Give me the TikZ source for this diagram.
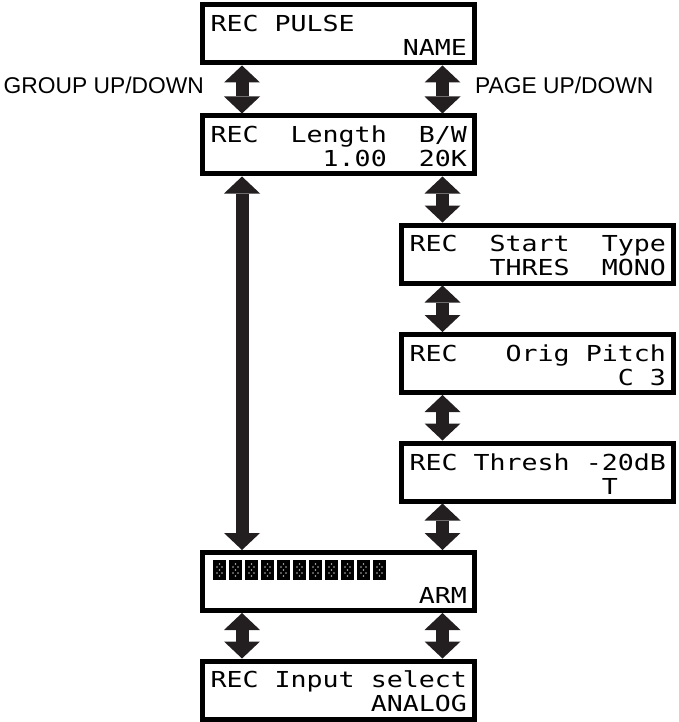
\documentclass[tikz,border=0pt]{standalone}
\usepackage{fontspec}
\setmainfont{Liberation Sans}
\newfontfamily\lcdfont[FakeStretch=1.21]{DejaVu Sans Mono}
\usetikzlibrary{arrows.meta}
\definecolor{arrowgray}{HTML}{231F20}
\newcommand\lcdstrut{\rule{0pt}{20pt}}
% one blank LCD cell per count
\newcommand\blank[1]{\hspace*{#1\fontcharwd\font`M}}
% two rows of a 16 character display
\newcommand\lcdrows[2]{\vbox{\baselineskip=24pt
    \hbox to 256pt{\lcdstrut #1\hfil}\hbox to 256pt{#2\hfil}}}

\tikzset{
  lcd/.style={draw, fill=white, line width=5pt, rectangle, minimum width=272pt, minimum height=58pt,
    inner xsep=8pt, inner ysep=2pt, font=\lcdfont\fontsize{22}{24}\selectfont},
  updown/.style={arrowgray, line width=13pt,
    {Triangle[width=36pt,length=17pt,line width=0pt]}-{Triangle[width=36pt,length=17pt,line width=0pt]}},
  keylabel/.style={font=\fontsize{22.8}{26}\selectfont, inner sep=0pt}
}

\begin{document}
\begin{tikzpicture}[x=1pt, y=-1pt]
    \useasboundingbox (0,0) rectangle (678,722);

    % Arrow columns
    \coordinate (lcol) at (242,0);
    \coordinate (rcol) at (442.5,0);

    % Left column
    \node[lcd] (pulse) at (338.5,34) {\lcdrows{REC\blank{1}PULSE}{\blank{12}NAME}};
    \node[lcd] (length) at (338.5,145) {\lcdrows{REC\blank{2}Length\blank{2}B/W}{\blank{7}1.00\blank{2}20K}};
    \node[lcd] (arm) at (338.5,581.5) {\lcdrows{}{\blank{13}ARM}};
    \node[lcd] (input) at (338.5,690) {\lcdrows{REC\blank{1}Input\blank{1}select}{\blank{10}ANALOG}};

    % Right column
    \node[lcd] (start) at (537.5,254) {\lcdrows{REC\blank{2}Start\blank{2}Type}{\blank{5}THRES\blank{2}MONO}};
    \node[lcd] (pitch) at (537.5,363.5) {\lcdrows{REC\blank{3}Orig\blank{1}Pitch}{\blank{13}C\blank{1}3}};
    \node[lcd] (thresh) at (537.5,472) {\lcdrows{REC\blank{1}Thresh\blank{1}-20dB}{\blank{12}T}};

    % Level meter
    \foreach \i in {0,...,10} {
        \fill[black] (213+16*\i,560) rectangle ++(13,20);
        \foreach \dx/\dy in {0/4, -2.5/7, 2.5/7, 0/10, -2.5/13, 2.5/13, 0/16}
            \fill[gray!60] (219.5+16*\i+\dx,560+\dy) circle (0.9);
    }

    % Key labels
    \node[keylabel, anchor=base east] (group) at (204,94) {GROUP UP/DOWN};
    \node[keylabel, anchor=base west] (page) at (475,94) {PAGE UP/DOWN};

    % Connections
    \draw[updown] (pulse.south -| lcol) -- (length.north -| lcol);
    \draw[updown] (pulse.south -| rcol) -- (length.north -| rcol);
    \draw[updown] (length.south -| lcol) -- (arm.north -| lcol);
    \draw[updown] (length.south -| rcol) -- (start.north -| rcol);
    \draw[updown] (start.south -| rcol) -- (pitch.north -| rcol);
    \draw[updown] (pitch.south -| rcol) -- (thresh.north -| rcol);
    \draw[updown] (thresh.south -| rcol) -- (arm.north -| rcol);
    \draw[updown] (arm.south -| lcol) -- (input.north -| lcol);
    \draw[updown] (arm.south -| rcol) -- (input.north -| rcol);
\end{tikzpicture}
\end{document}
